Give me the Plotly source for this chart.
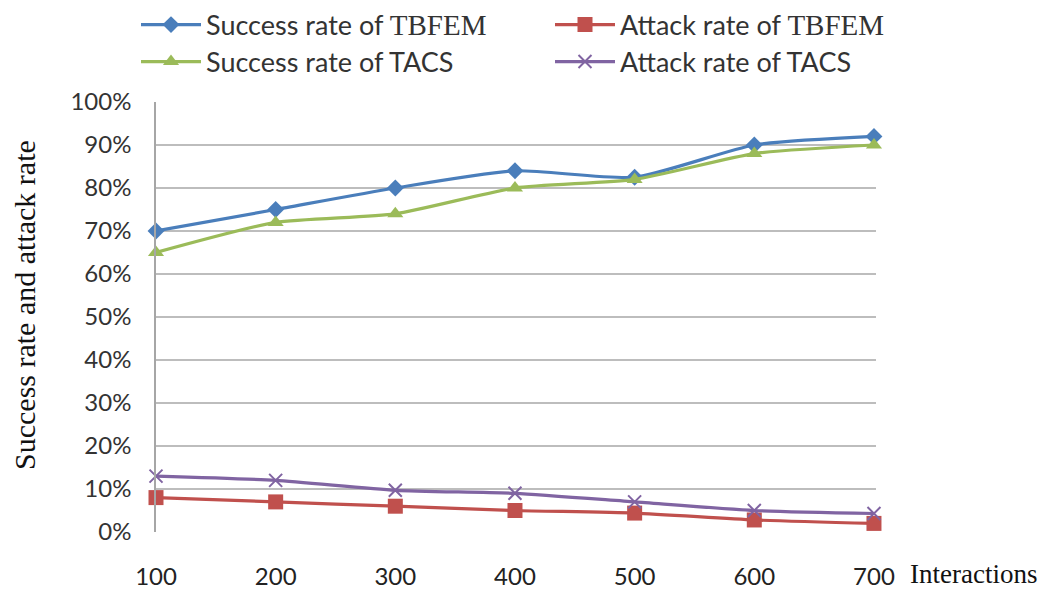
import plotly.graph_objects as go

interactions = [100, 200, 300, 400, 500, 600, 700]
success_tbfem = [0.70, 0.75, 0.80, 0.84, 0.825, 0.90, 0.92]
success_tacs = [0.65, 0.72, 0.74, 0.80, 0.82, 0.88, 0.90]
attack_tbfem = [0.08, 0.07, 0.06, 0.05, 0.044, 0.028, 0.02]
attack_tacs = [0.13, 0.12, 0.097, 0.09, 0.07, 0.05, 0.043]

SERIF = "Liberation Serif, Times New Roman, serif"
SANS = "Lato, Open Sans, sans-serif"
TB = '<span style="font-family:Liberation Serif, serif;font-size:29px">TBFEM</span>'

names = [
    "Success rate of " + TB,
    "Attack rate of " + TB,
    "Success rate of TACS",
    "Attack rate of TACS",
]
series = [success_tbfem, attack_tbfem, success_tacs, attack_tacs]
colors = ["#4A7EBB", "#C0504D", "#9BBB59", "#8064A2"]
symbols = ["diamond", "square", "triangle-up", "x-thin"]
sizes = [13, 15, 14, 13]
legends = ["legend", "legend2", "legend3", "legend4"]

# page is offset by 8px (body margin): figure coords = screen - 8
L, T, B_, R_ = 148, 94, 524, 868
W, H = 1049, 581
PW, PH = R_ - L, B_ - T

fig = go.Figure()
for n, s, c, sym, sz, lg in zip(names, series, colors, symbols, sizes, legends):
    marker = dict(symbol=sym, size=sz, color=c)
    if sym == "x-thin":
        marker["line"] = dict(color=c, width=2)
    fig.add_trace(go.Scatter(
        x=interactions, y=s, name=n, mode="lines+markers",
        line=dict(color=c, width=3.2, shape="spline", smoothing=0.6),
        marker=marker, legend=lg, cliponaxis=False,
    ))

leg_pos = {
    "legend": ((128 - L) / PW, 1.179),
    "legend2": ((542 - L) / PW, 1.179),
    "legend3": ((128 - L) / PW, 1.093),
    "legend4": ((542 - L) / PW, 1.093),
}
legend_cfg = {}
for lg, (lx, ly) in leg_pos.items():
    legend_cfg[lg] = dict(
        x=lx, y=ly, xanchor="left", yanchor="middle",
        font=dict(family=SANS, size=27, color="#333333"),
        bgcolor="rgba(0,0,0,0)", itemwidth=60,
    )

fig.update_layout(
    width=W, height=H,
    margin=dict(l=L, r=W - R_, t=T, b=H - B_, autoexpand=False),
    paper_bgcolor="white", plot_bgcolor="white",
    showlegend=True,
    **legend_cfg,
    xaxis=dict(
        range=[100, 701.7], tickvals=interactions,
        ticktext=[str(v) for v in interactions],
        showgrid=False, zeroline=False, showline=False,
        ticks="", ticklabelstandoff=28,
        tickfont=dict(family=SANS, size=24, color="#222222"),
    ),
    yaxis=dict(
        range=[0, 1], dtick=0.1, tickformat=".0%",
        showgrid=True, gridcolor="#BDBDBD", gridwidth=1.5,
        zeroline=False, showline=True, linecolor="#A6A6A6", linewidth=1.5,
        ticks="", ticklabelstandoff=18,
        tickfont=dict(family=SANS, size=24, color="#333333"),
    ),
    annotations=[
        dict(text="Success rate and attack rate", xref="paper", yref="paper",
             x=(16 - L) / PW, y=(B_ - 297) / PH, textangle=-90, showarrow=False,
             font=dict(family=SERIF, size=30, color="#111111"),
             xanchor="center", yanchor="middle"),
        dict(text="Interactions", xref="paper", yref="paper",
             x=(900 - L) / PW, y=-(566 - B_) / PH, showarrow=False,
             xanchor="left", yanchor="middle",
             font=dict(family=SERIF, size=27, color="#111111")),
    ],
)

fig.write_html("out.html")
